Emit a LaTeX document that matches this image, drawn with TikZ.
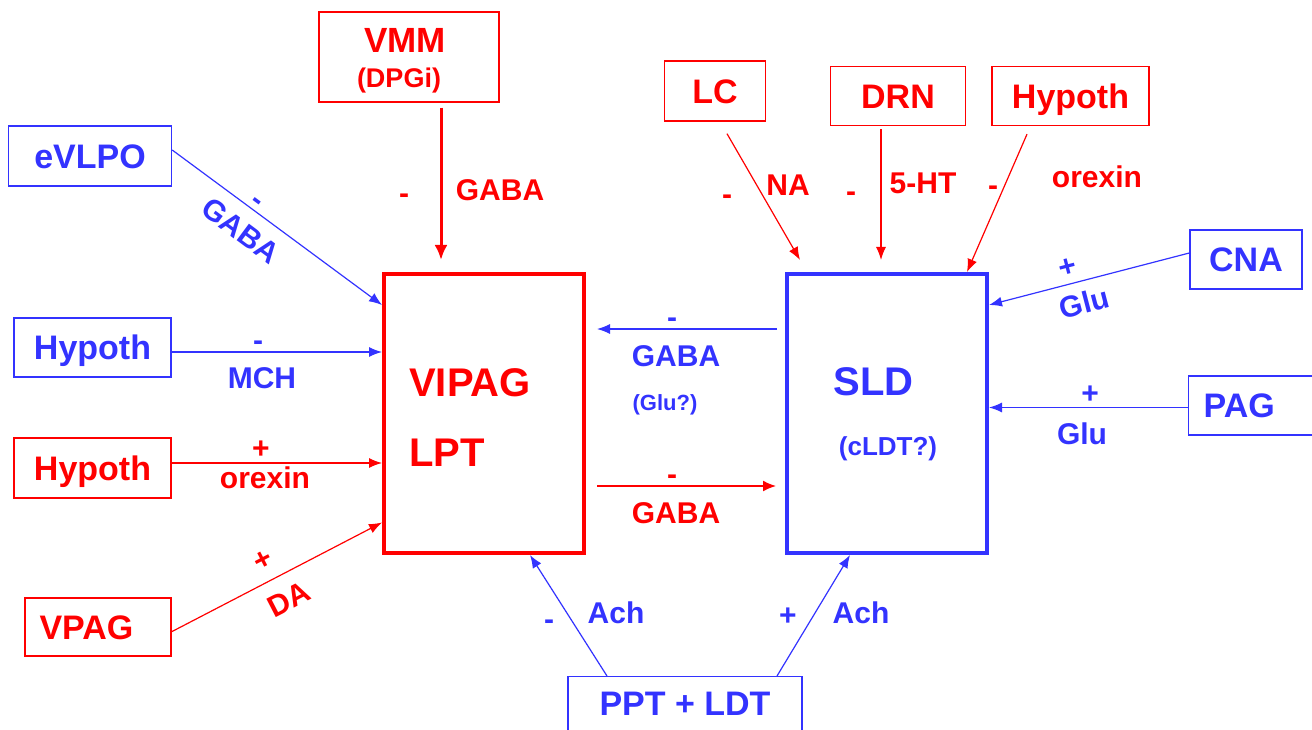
\documentclass[tikz,border=0pt]{standalone}
\usepackage{fontspec}
\setmainfont{Liberation Sans}
\usetikzlibrary{arrows.meta,calc}
\definecolor{nred}{RGB}{255,0,0}
\definecolor{nblue}{RGB}{51,51,255}
\begin{document}
\begin{tikzpicture}[x=1pt,y=-1pt,
  cap/.style={font=\fontsize{#1}{#1}\selectfont\bfseries, inner sep=0pt,
    text depth=0pt, text height={0.716*#1pt}},
  box/.style={draw, line width=1.4pt, cap=34},
  rbox/.style={box, color=nred},
  bbox/.style={box, color=nblue},
  core/.style={draw, line width=4pt, inner sep=0pt,
    minimum width=200pt, minimum height=279pt},
  lab/.style={cap=30},
  rlab/.style={lab, text=nred},
  blab/.style={lab, text=nblue},
  arr/.style={line width=1.2pt, -{Latex[length=13pt,width=10pt]}},
  rarr/.style={arr, nred},
  barr/.style={arr, nblue}
]
\useasboundingbox (0,0) rectangle (1312,730);

% central nuclei
\node[core, color=nred] (vipag) at (484,413.5) {};
\node[core, color=nblue] (sld) at (887,413.5) {};
\node[cap=40, text=nred, anchor=west] (vipagName) at (409,382) {VIPAG};
\node[cap=40, text=nred, anchor=west] (lptName) at (409,452.5) {LPT};
\node[cap=40, text=nblue] (sldName) at (873.5,381.5) {SLD};
\node[cap=26, text=nblue] (sldSub) at (888,446) {(cLDT?)};

% afferent regions
\node[rbox, minimum width=180pt, minimum height=90pt] (vmm) at (409,57) {};
\node[cap=35, text=nred] (vmmName) at (405,39.5) {VMM};
\node[cap=27, text=nred] (vmmSub) at (399,77.5) {(DPGi)};
\node[bbox, minimum width=163pt, minimum height=60pt] (evlpo) at (90,156) {eVLPO};
\node[bbox, minimum width=157pt, minimum height=59pt] (hypB) at (92.5,347.5) {Hypoth};
\node[rbox, minimum width=157pt, minimum height=60pt] (hypR) at (92.5,468) {Hypoth};
\node[rbox, minimum height=58pt, text width=117pt, align=left, inner xsep=14.5pt] (vpag) at (98,627) {VPAG};
\node[rbox, minimum width=101pt, minimum height=60pt] (lc) at (715,91) {LC};
\node[rbox, minimum width=135pt, minimum height=59pt] (drn) at (898,96) {DRN};
\node[rbox, minimum width=157pt, minimum height=59pt] (hypT) at (1070.5,96) {Hypoth};
\node[bbox, minimum width=112pt, minimum height=59pt] (cna) at (1246,259.5) {CNA};
\node[bbox, minimum height=59pt, text width=110pt, align=left, inner xsep=15pt, anchor=west] (pag) at (1188,405.5) {PAG};
\node[bbox, minimum width=234pt, minimum height=70pt, text depth=17pt, anchor=north] (ppt) at (685,676) {PPT + LDT};

% projections onto VIPAG/LPT
\draw[nred, line width=3pt, -{Latex[length=15pt,width=13pt]}] ($(vmm.south)+(32,5)$) -- ($(vipag.north)+(-43,-12)$);
\draw[barr] ($(evlpo.east)+(0,-6)$) -- ($(vipag.west)+(0,-108.5)$);
\draw[barr] ($(hypB.east)+(0,4.5)$) -- ($(vipag.west)+(0,-61.5)$);
\draw[rarr] ($(hypR.east)+(0,-5)$) -- ($(vipag.west)+(0,49.5)$);
\draw[rarr] ($(vpag.east)+(0,4.7)$) -- ($(vipag.west)+(0,109)$);
\draw[barr] ($(ppt.north)+(-78,0)$) -- ($(vipag.south)+(46,0)$);
\draw[barr] ($(sld.west)+(-8,-84.5)$) -- ($(vipag.east)+(11,-84.5)$);

% projections onto SLD
\draw[nred, line width=1.6pt, -{Latex[length=13pt,width=11pt]}] ($(vipag.east)+(11,72.5)$) -- ($(sld.west)+(-9,72.5)$);
\draw[rarr] ($(lc.south)+(12,12)$) -- ($(sld.north)+(-87,-12)$);
\draw[rarr] ($(drn.south)+(-17,3)$) -- ($(sld.north)+(-6,-12)$);
\draw[rarr] ($(hypT.south)+(-43.5,8)$) -- ($(sld.north)+(80,0)$);
\draw[barr] ($(cna.west)+(0,-6.5)$) -- ($(sld.east)+(0,-108.5)$);
\draw[barr] ($(pag.west)+(0,2)$) -- ($(sld.east)+(0,-6)$);
\draw[barr] ($(ppt.north)+(92,0)$) -- ($(sld.south)+(-37,0)$);

% transmitter labels
\node[rlab] (l1s) at (404,193) {-};
\node[rlab] (l1t) at (500,190) {GABA};
\node[blab, rotate=-36.6] (l2s) at (259,199) {-};
\node[blab, rotate=-36.6] (l2t) at (241,230) {GABA};
\node[blab] (l3s) at (258,340) {-};
\node[blab] (l3t) at (262,378) {MCH};
\node[rlab] (l4s) at (261,448) {+};
\node[rlab] (l4t) at (265,478) {orexin};
\node[rlab, rotate=27.3] (l5s) at (262,559) {+};
\node[rlab, rotate=27.3] (l5t) at (289,599) {DA};
\node[blab] (l6s) at (549,619) {-};
\node[blab] (l6t) at (616,613) {Ach};
\node[blab] (l7s) at (788,615) {+};
\node[blab] (l7t) at (861,613) {Ach};
\node[blab] (l8s) at (672,317) {-};
\node[blab] (l8t) at (676,356) {GABA};
\node[cap=22, text=nblue] (l8u) at (665,403) {(Glu?)};
\node[rlab] (l9s) at (672,474) {-};
\node[rlab] (l9t) at (676,513) {GABA};
\node[rlab] (l10s) at (727,194) {-};
\node[rlab] (l10t) at (788,185) {NA};
\node[rlab] (l11s) at (851,191) {-};
\node[rlab] (l11t) at (923,183) {5-HT};
\node[rlab] (l12s) at (993,185) {-};
\node[rlab] (l12t) at (1097,177) {orexin};
\node[blab, rotate=14.6] (l13s) at (1067,266) {+};
\node[blab, rotate=14.6] (l13t) at (1084,303) {Glu};
\node[blab] (l14s) at (1090,393) {+};
\node[blab] (l14t) at (1082,434) {Glu};
\end{tikzpicture}
\end{document}
